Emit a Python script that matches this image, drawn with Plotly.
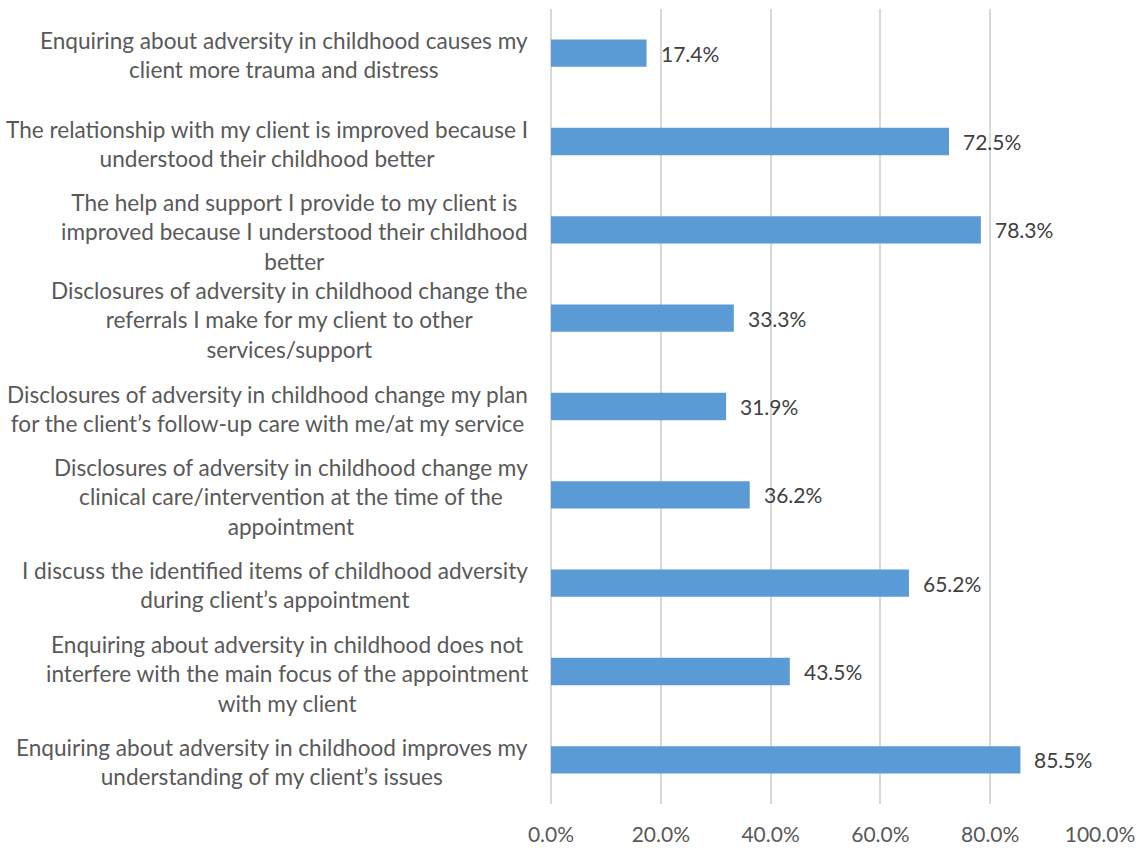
import plotly.graph_objects as go

labels = [
    "Enquiring about adversity in childhood causes my<br>client more trauma and distress",
    "The relationship with my client is improved because I<br>understood their childhood better",
    "The help and support I provide to my client is<br>improved because I understood their childhood<br>better",
    "Disclosures of adversity in childhood change the<br>referrals I make for my client to other<br>services/support",
    "Disclosures of adversity in childhood change my plan<br>for the client’s follow-up care with me/at my service",
    "Disclosures of adversity in childhood change my<br>clinical care/intervention at the time of the<br>appointment",
    "I discuss the identified items of childhood adversity<br>during client’s appointment",
    "Enquiring about adversity in childhood does not<br>interfere with the main focus of the appointment<br>with my client",
    "Enquiring about adversity in childhood improves my<br>understanding of my client’s issues",
]
values = [17.4, 72.5, 78.3, 33.3, 31.9, 36.2, 65.2, 43.5, 85.5]
tick_vals = [0, 20, 40, 60, 80, 100]
tick_text = ["0.0%", "20.0%", "40.0%", "60.0%", "80.0%", "100.0%"]

FONT = "Lato"
TXT = "#595959"

fig = go.Figure(go.Bar(
    x=values, y=labels, orientation="h",
    marker=dict(color="#5B9BD5", line=dict(width=0)),
    width=0.31, hoverinfo="skip",
))

annotations = []
for lab, v in zip(labels, values):
    annotations.append(dict(
        x=0, xref="paper", y=lab, yref="y",
        text=lab, showarrow=False, xanchor="right", yanchor="middle",
        align="center", xshift=-21, yshift=-2,
        font=dict(family=FONT, size=22.6, color=TXT),
    ))
    annotations.append(dict(
        x=v, xref="x", y=lab, yref="y", text=f"{v:.1f}%",
        showarrow=False, xanchor="left", yanchor="middle", xshift=12,
        font=dict(family=FONT, size=21, color="#404040"),
    ))

fig.update_layout(
    width=1140, height=848,
    margin=dict(l=551, r=40, t=9, b=44, autoexpand=False),
    paper_bgcolor="white", plot_bgcolor="white",
    showlegend=False,
    font=dict(family=FONT, size=20, color=TXT),
    annotations=annotations,
    xaxis=dict(
        range=[0, 100], tickvals=tick_vals, ticktext=tick_text,
        showgrid=True, gridcolor="#D9D9D9", gridwidth=1.5,
        zeroline=True, zerolinecolor="#D9D9D9", zerolinewidth=1.5,
        showline=False, ticks="outside", ticklen=12, tickcolor="rgba(0,0,0,0)",
        tickfont=dict(family=FONT, size=21, color=TXT), fixedrange=True,
        automargin=False,
    ),
    yaxis=dict(
        range=[8.5, -0.5], showticklabels=False, showgrid=False,
        zeroline=False, showline=False, fixedrange=True, automargin=False,
    ),
)

fig.write_html(
    "out.html",
    config={"displayModeBar": False},
    post_script="document.body.style.margin='0';document.body.style.overflow='hidden';",
)
